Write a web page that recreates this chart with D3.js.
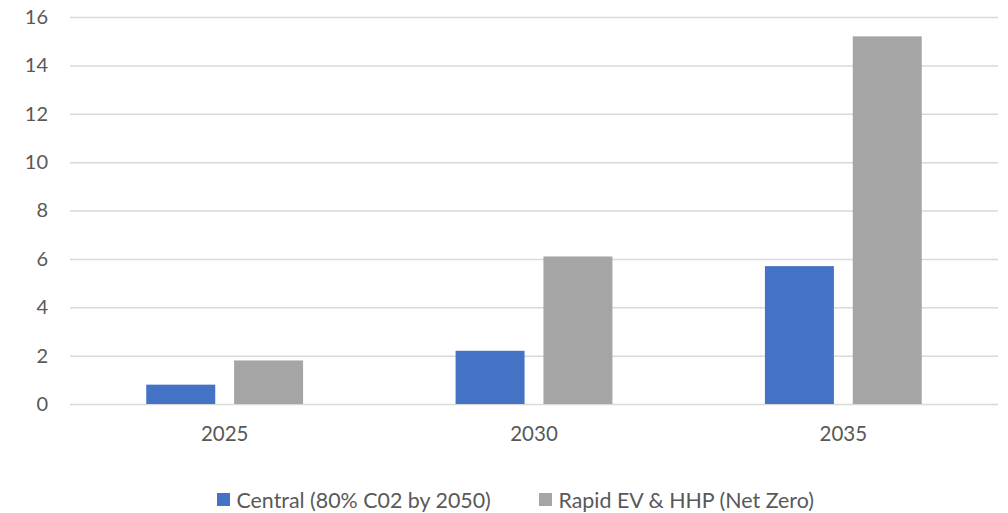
<!DOCTYPE html>
<html>
<head>
<meta charset="utf-8">
<script src="https://cdn.jsdelivr.net/npm/d3@7"></script>
<style>
  html, body { margin: 0; padding: 0; background: #fff; }
  svg text { font-family: Lato, "Open Sans", sans-serif; fill: #595959; }
</style>
</head>
<body>
<svg id="chart" width="1008" height="513"></svg>
<script>
const years = ["2025", "2030", "2035"];
const seriesNames = ["Central (80% C02 by 2050)", "Rapid EV & HHP (Net Zero)"];
const centralValues = [0.8, 2.2, 5.7];
const rapidValues = [1.8, 6.1, 15.2];
const yTicks = [0, 2, 4, 6, 8, 10, 12, 14, 16];
const colors = ["#4472C4", "#A5A5A5"];

const svg = d3.select("#chart");
const margin = { left: 70, right: 10, top: 17, bottom: 109 };
const W = 1008, H = 513;
const plotW = W - margin.left - margin.right;
const plotH = H - margin.top - margin.bottom;
const g = svg.append("g").attr("transform", `translate(${margin.left},${margin.top})`);

const x = d3.scaleBand().domain(years).range([0, plotW]).paddingInner(0).paddingOuter(0);
const series = [centralValues, rapidValues];
const barW = x.bandwidth() * 0.223;
const gap = x.bandwidth() * 0.061;
const xSub = d3.scaleOrdinal().domain([0, 1]).range([-(barW + gap / 2), gap / 2]);
const y = d3.scaleLinear().domain([0, 16]).range([plotH, 0]);

// horizontal gridlines with value labels
const yAxis = d3.axisLeft(y).tickValues(yTicks).tickSize(-plotW).tickPadding(22).tickFormat(d3.format("d"));
const ya = g.append("g").call(yAxis);
ya.select(".domain").remove();
ya.selectAll(".tick line").attr("stroke", "#D9D9D9").attr("stroke-width", 1.5);
ya.selectAll(".tick text").style("font-size", "20px").attr("fill", "#595959");

// bars
series.forEach((vals, si) => {
  g.append("g").selectAll("rect").data(years).join("rect")
    .attr("x", d => x(d) + x.bandwidth() / 2 + xSub(si))
    .attr("width", barW)
    .attr("y", (d, i) => y(vals[i]))
    .attr("height", (d, i) => y(0) - y(vals[i]))
    .attr("fill", colors[si]);
});

// category axis labels
const xa = g.append("g").attr("transform", `translate(0,${plotH})`)
  .call(d3.axisBottom(x).tickSize(0).tickPadding(22));
xa.select(".domain").remove();
xa.selectAll(".tick text").style("font-size", "20.5px").attr("fill", "#595959");

// legend
const legend = svg.append("g").attr("transform", "translate(217,493)");
const legX = [0, 322];
seriesNames.forEach((name, i) => {
  const item = legend.append("g").attr("transform", `translate(${legX[i]},0)`);
  item.append("rect").attr("width", 13).attr("height", 13).attr("fill", colors[i]);
  item.append("text").attr("x", 19.5).attr("y", 7).attr("dy", "0.35em")
    .style("font-size", "21.4px").text(name);
});
</script>
</body>
</html>
